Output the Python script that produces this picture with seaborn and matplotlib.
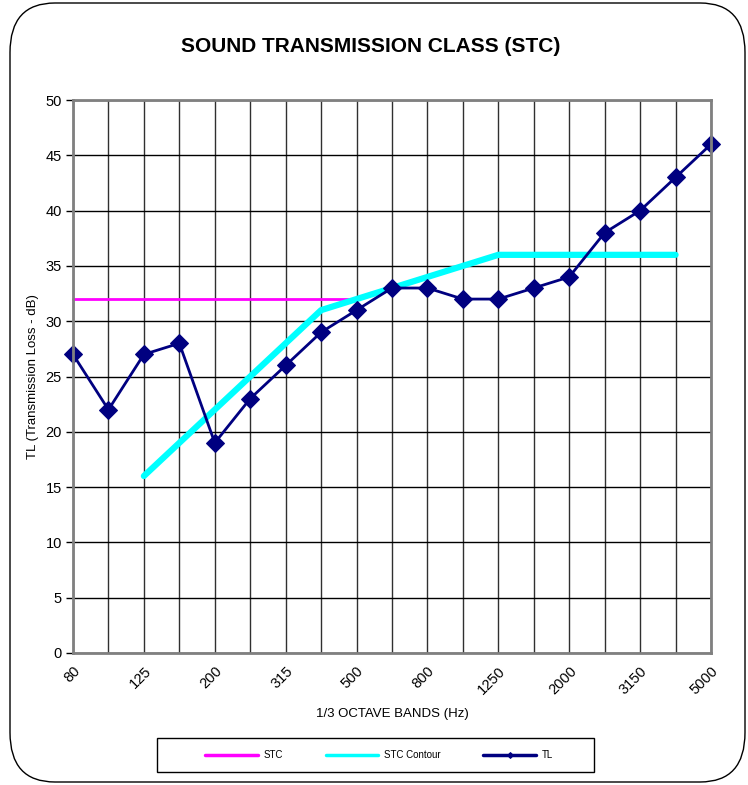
import matplotlib
matplotlib.use("Agg")
import matplotlib.pyplot as plt
from matplotlib.patches import FancyBboxPatch, Rectangle
import seaborn as sns
import pandas as pd

bands = ["80", "100", "125", "160", "200", "250", "315", "400", "500", "630",
         "800", "1000", "1250", "1600", "2000", "2500", "3150", "4000", "5000"]
tl = [27, 22, 27, 28, 19, 23, 26, 29, 31, 33, 33, 32, 32, 33, 34, 38, 40, 43, 46]
stc_bands = ["80", "100", "125", "160", "200", "250", "315", "400", "500"]
stc = [32, 32, 32, 32, 32, 32, 32, 32, 32]
contour_bands = ["125", "160", "200", "250", "315", "400", "500", "630", "800",
                 "1000", "1250", "1600", "2000", "2500", "3150", "4000"]
contour = [16, 19, 22, 25, 28, 31, 32, 33, 34, 35, 36, 36, 36, 36, 36, 36]
yticks = [0, 5, 10, 15, 20, 25, 30, 35, 40, 45, 50]

sns.set_theme(style="white")
plt.rcParams["font.family"] = ["Liberation Sans", "DejaVu Sans"]
plt.rcParams["text.color"] = "black"
plt.rcParams["axes.labelcolor"] = "black"
plt.rcParams["xtick.color"] = "black"
plt.rcParams["ytick.color"] = "black"

pos = {b: i for i, b in enumerate(bands)}
df_tl = pd.DataFrame({"x": [pos[b] for b in bands], "y": tl})
df_stc = pd.DataFrame({"x": [pos[b] for b in stc_bands], "y": stc})
df_con = pd.DataFrame({"x": [pos[b] for b in contour_bands], "y": contour})

fig = plt.figure(figsize=(7.48, 7.85), dpi=100)
ax = fig.add_axes([73 / 748, 1 - 653 / 785, (711 - 73) / 748, (653 - 100) / 785])

sns.lineplot(data=df_stc, x="x", y="y", ax=ax, color="#FF00FF", linewidth=2, label="STC")
sns.lineplot(data=df_con, x="x", y="y", ax=ax, color="#00FFFF", linewidth=4.5, label="STC Contour")
sns.lineplot(data=df_tl, x="x", y="y", ax=ax, color="#000080", linewidth=2, marker="D",
             markersize=9, markeredgecolor="#000080", label="TL")
for ln in ax.lines:
    ln.set_clip_on(False)

ax.set_xlim(0, len(bands) - 1)
ax.set_ylim(0, 50)
ax.set_yticks(yticks)
ax.set_yticklabels([str(v) for v in yticks], fontsize=10.5)
ax.set_xticks(range(len(bands)))
ax.set_xticklabels([b if i % 2 == 0 else "" for i, b in enumerate(bands)],
                   rotation=45, ha="right", va="top", rotation_mode="anchor", fontsize=10.5)
ax.tick_params(axis="y", which="major", length=5, color="black", width=1, left=True, pad=3)
ax.tick_params(axis="x", which="major", length=0, pad=8)
ax.grid(True, axis="y", color="black", linewidth=1)
ax.grid(True, axis="x", color="#303030", linewidth=1)
ax.set_axisbelow(True)
for s in ax.spines.values():
    s.set_color("#808080")
    s.set_linewidth(2)
ax.set_xlabel("1/3 OCTAVE BANDS (Hz)", fontsize=9.5, labelpad=8)
ax.set_ylabel("TL (Transmission Loss - dB)", fontsize=9.5, labelpad=5)
fig.text(371 / 748, 1 - 47 / 785, "SOUND TRANSMISSION CLASS (STC)", fontsize=15,
         fontweight="bold", ha="center", va="center")

h, l = ax.get_legend_handles_labels()
ax.get_legend().remove()
leg = fig.legend(h, l, loc="center", bbox_to_anchor=(379 / 748, 1 - 755 / 785), ncol=3,
                 fontsize=7, frameon=False,
                 handlelength=5.4, columnspacing=4.4, handletextpad=0.6)
for lh in leg.legend_handles:
    lh.set_markersize(3)
    lh.set_linewidth(2.5)
fig.patches.append(Rectangle((157 / 748, 1 - 772 / 785), (594 - 157) / 748, 34 / 785,
                             transform=fig.transFigure, facecolor="none",
                             edgecolor="black", linewidth=1))

border = FancyBboxPatch((10 / 748, 3 / 785), 735 / 748, 779 / 785,
                        boxstyle="round,pad=0,rounding_size=0.06", transform=fig.transFigure,
                        facecolor="none", edgecolor="black", linewidth=1, mutation_aspect=785/748)
fig.patches.append(border)

fig.savefig("out.png", dpi=100)
